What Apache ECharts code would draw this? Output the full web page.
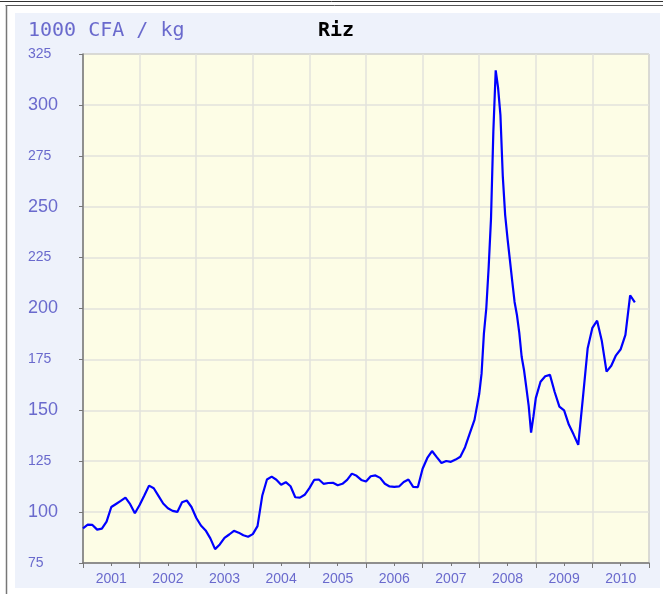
<!DOCTYPE html>
<html>
<head>
<meta charset="utf-8">
<script src="https://cdn.jsdelivr.net/npm/echarts@6/dist/echarts.min.js"></script>
<style>html,body{margin:0;padding:0;background:#fff;}#c{width:663px;height:594px;}</style>
</head>
<body>
<div id="c"></div>
<script>
const unitLabel = '1000 CFA / kg';
const chartTitle = 'Riz';
const years = ['2001','2002','2003','2004','2005','2006','2007','2008','2009','2010'];
const yTicks = [75,100,125,150,175,200,225,250,275,300,325];
const dates = [
 '2001-01','2001-02','2001-03','2001-04','2001-05','2001-06','2001-07','2001-08','2001-09','2001-10','2001-11','2001-12',
 '2002-01','2002-02','2002-03','2002-04','2002-05','2002-06','2002-07','2002-08','2002-09','2002-10','2002-11','2002-12',
 '2003-01','2003-02','2003-03','2003-04','2003-05','2003-06','2003-07','2003-08','2003-09','2003-10','2003-11','2003-12',
 '2004-01','2004-02','2004-03','2004-04','2004-05','2004-06','2004-07','2004-08','2004-09','2004-10','2004-11','2004-12',
 '2005-01','2005-02','2005-03','2005-04','2005-05','2005-06','2005-07','2005-08','2005-09','2005-10','2005-11','2005-12',
 '2006-01','2006-02','2006-03','2006-04','2006-05','2006-06','2006-07','2006-08','2006-09','2006-10','2006-11','2006-12',
 '2007-01','2007-02','2007-03','2007-04','2007-05','2007-06','2007-07','2007-08','2007-09','2007-10','2007-11','2007-12',
 '2008-01','2008-01-16','2008-02','2008-02-16','2008-03','2008-03-16','2008-04','2008-04-16','2008-05','2008-05-16','2008-06','2008-06-16',
 '2008-07','2008-07-16','2008-08','2008-08-16','2008-09','2008-09-16','2008-10','2008-10-16','2008-11','2008-11-16','2008-12','2008-12-16',
 '2009-01','2009-02','2009-03','2009-04','2009-05','2009-06','2009-07','2009-08','2009-09','2009-10','2009-11','2009-12',
 '2010-01','2010-02','2010-03','2010-04','2010-05','2010-06','2010-07','2010-08','2010-09','2010-10'
];
const prices = [
 92, 93.8, 93.7, 91.4, 91.9, 95.3, 102.5, 104, 105.5, 107.1, 103.9, 99.4,
 103.5, 108.2, 113, 111.7, 108, 104.2, 101.9, 100.6, 100.1, 104.8, 105.7, 102.5,
 97.2, 93.4, 91, 87.1, 81.8, 84.1, 87.3, 89, 90.8, 89.9, 88.6, 87.9,
 89.2, 93.1, 108, 116, 117.4, 115.9, 113.4, 114.7, 112.7, 107.3, 107.1, 108.5,
 111.8, 115.8, 116, 113.9, 114.3, 114.4, 113.2, 113.9, 115.8, 118.9, 117.8, 115.8,
 115, 117.6, 118, 116.8, 113.9, 112.6, 112.4, 112.6, 114.8, 116, 112.4, 112.3,
 121.3, 126.6, 130, 127, 124.1, 125.1, 124.7, 125.8, 127.2, 131.9, 138.7, 145.3,
 158, 168, 187.8, 200, 220, 244, 287, 317, 308.5, 295, 265, 246,
 234.5, 224, 213.5, 203.2, 196.8, 188, 176.3, 169.8, 161, 152, 139, 147,
 156, 164, 166.7, 167.4, 159, 151.8, 150, 143, 138.2, 133, 156.5, 180.5,
 190.5, 194, 184, 169, 171.9, 177, 180, 187, 206.5, 203
];

function toYear(s){
  const p = s.split('-').map(Number);
  const d = p.length > 2 ? p[2] : 1;
  return p[0] + (p[1]-1)/12 + (d-1)/360;
}
const seriesData = dates.map((d,i)=>[toYear(d), prices[i]]);

const labelColor = '#6a6acd';
const chart = echarts.init(document.getElementById('c'));
chart.setOption({
  backgroundColor: '#ffffff',
  animation: false,
  graphic: {
    z: -1,
    elements: [
      {type:'rect', shape:{x:15,y:13,width:645,height:575}, style:{fill:'#eef2fb'}, z:-1},
      {type:'line', shape:{x1:0,y1:1.5,x2:663,y2:1.5}, style:{stroke:'#333',lineWidth:1}},
      {type:'line', shape:{x1:5.5,y1:5.5,x2:663,y2:5.5}, style:{stroke:'#555',lineWidth:1}},
      {type:'line', shape:{x1:6.5,y1:5.5,x2:6.5,y2:594}, style:{stroke:'#777',lineWidth:1.5}}
    ]
  },
  title: [
    {text: unitLabel, left: 28, top: 21, padding: 0, textStyle:{fontFamily:'DejaVu Sans Mono', fontSize:20, fontWeight:'normal', color:labelColor}},
    {text: chartTitle, left: 318, top: 21, padding: 0, textStyle:{fontFamily:'DejaVu Sans Mono', fontSize:20, fontWeight:'bold', color:'#000'}}
  ],
  grid: {left:83, top:54, right:14, bottom:31, show:true, backgroundColor:'#fdfde6', borderColor:'#8a8a8a', borderWidth:1},
  xAxis: [
    {
      type:'value', min:2001, max:2011, interval:1, position:'bottom',
      axisLine:{show:true, onZero:false, lineStyle:{color:'#777', width:1.5}},
      axisTick:{show:true, length:5, lineStyle:{color:'#777'}},
      minorTick:{show:true, splitNumber:2, length:3, lineStyle:{color:'#777'}},
      axisLabel:{show:false},
      splitLine:{show:true, lineStyle:{color:'#e2e2dc', width:1.5}}
    },
    {
      type:'category', data: years, position:'bottom', offset:0, boundaryGap:true,
      axisLine:{show:false}, axisTick:{show:false}, splitLine:{show:false},
      axisLabel:{color:labelColor, fontFamily:'Liberation Sans', fontSize:14, margin:9}
    }
  ],
  yAxis: {
    type:'value', min:75, max:325, interval:25,
    axisLine:{show:true, onZero:false, lineStyle:{color:'#777', width:1.5}},
    axisTick:{show:true, length:4, lineStyle:{color:'#777'}},
    splitLine:{show:true, lineStyle:{color:'#e2e2dc', width:1.5}},
    axisLabel:{
      align:'left', margin:55, color:labelColor,
      formatter: v => (yTicks.indexOf(v) >= 0 ? (v % 50 === 0 ? '{b|'+v+'}' : '{s|'+v+'}') : ''),
      rich:{
        b:{fontFamily:'Liberation Sans', fontSize:18, color:labelColor},
        s:{fontFamily:'Liberation Sans', fontSize:14, color:labelColor}
      }
    }
  },
  series: [{
    type:'line', xAxisIndex:0, data: seriesData, showSymbol:false, symbol:'none',
    lineStyle:{color:'#0000ff', width:2.2}, smooth:false
  }]
});
</script>
</body>
</html>
